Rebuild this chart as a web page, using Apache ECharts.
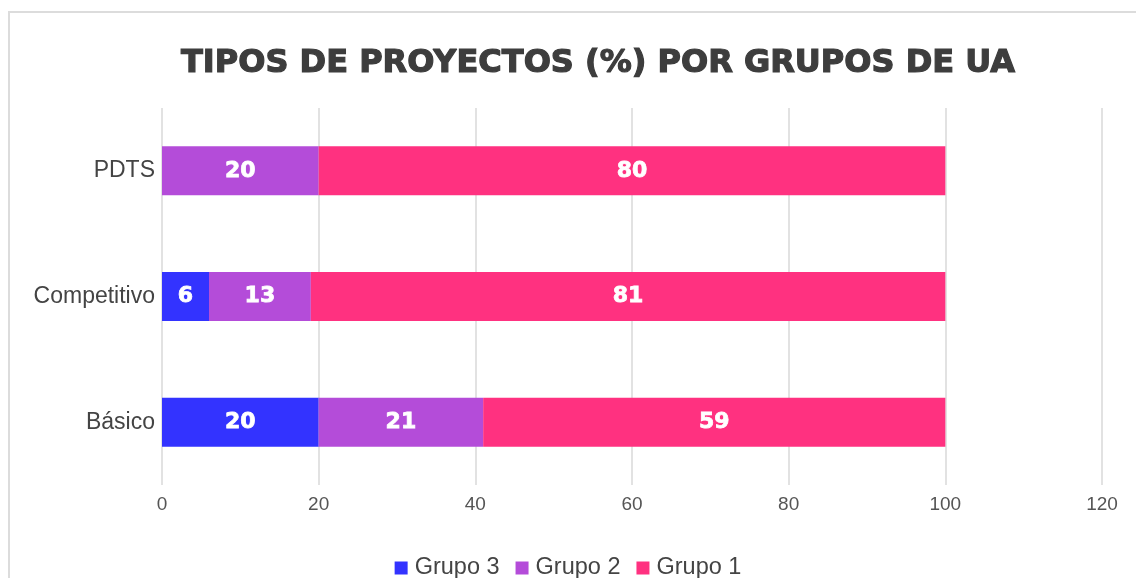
<!DOCTYPE html>
<html>
<head>
<meta charset="utf-8">
<script src="https://cdn.jsdelivr.net/npm/echarts@6/dist/echarts.min.js"></script>
<style>
  html, body { margin: 0; padding: 0; background: #fff; }
  #frame { position: absolute; left: 8px; top: 11px; width: 1140px; height: 580px;
           border-left: 2px solid #dcdcdc; border-top: 2px solid #dcdcdc; box-sizing: border-box; }
  #chart { position: absolute; left: 0; top: 0; width: 1136px; height: 578px; }
</style>
</head>
<body>
<div id="frame"></div>
<div id="chart"></div>
<script>
// datos del gráfico
const categories = ['Básico', 'Competitivo', 'PDTS']
const grupo3 = [20, 6, 0]
const grupo2 = [21, 13, 20]
const grupo1 = [59, 81, 80]
const xTicks = [0, 20, 40, 60, 80, 100, 120]

const colores = ['#3333ff', '#b44cd9', '#ff3180']

const chart = echarts.init(document.getElementById('chart'))

const barLabel = {
  show: true,
  position: 'inside',
  color: '#fff',
  fontFamily: 'DejaVu Sans',
  fontWeight: 'bold',
  fontSize: 22,
  textBorderColor: '#fff',
  textBorderWidth: 0.8,
  formatter: function (p) { return p.value ? p.value : '' }
}

const option = {
  title: {
    text: 'TIPOS DE PROYECTOS (%) POR GRUPOS DE UA',
    left: 176,
    top: 43,
    textStyle: {
      color: '#3d3d3d',
      fontFamily: 'DejaVu Sans',
      fontWeight: 'bold',
      fontSize: 32,
      textBorderColor: '#3d3d3d',
      textBorderWidth: 1.2
    }
  },
  color: colores,
  legend: {
    top: 551,
    left: 'center',
    itemWidth: 13,
    itemHeight: 13,
    itemGap: 16,
    icon: 'rect',
    data: ['Grupo 3', 'Grupo 2', 'Grupo 1'],
    textStyle: { color: '#444', fontSize: 23.5, fontFamily: 'Liberation Sans', padding: [0, 0, 0, 2] }
  },
  grid: { left: 162, right: 34, top: 108, bottom: 93 },
  xAxis: {
    type: 'value',
    min: xTicks[0],
    max: xTicks[xTicks.length - 1],
    interval: 20,
    axisLine: { show: false },
    axisTick: { show: false },
    axisLabel: { color: '#555', fontSize: 19, fontFamily: 'Liberation Sans', margin: 10 },
    splitLine: { lineStyle: { color: '#d9d9d9', width: 1.5 } }
  },
  yAxis: {
    type: 'category',
    data: categories,
    axisLine: { show: false },
    axisTick: { show: false },
    axisLabel: { color: '#444', fontSize: 23, fontFamily: 'Liberation Sans', margin: 7 }
  },
  series: [
    { name: 'Grupo 3', type: 'bar', stack: 'total', data: grupo3, barWidth: 49, label: barLabel },
    { name: 'Grupo 2', type: 'bar', stack: 'total', data: grupo2, barWidth: 49, label: barLabel },
    { name: 'Grupo 1', type: 'bar', stack: 'total', data: grupo1, barWidth: 49, label: barLabel }
  ]
}

chart.setOption(option)
</script>
</body>
</html>
